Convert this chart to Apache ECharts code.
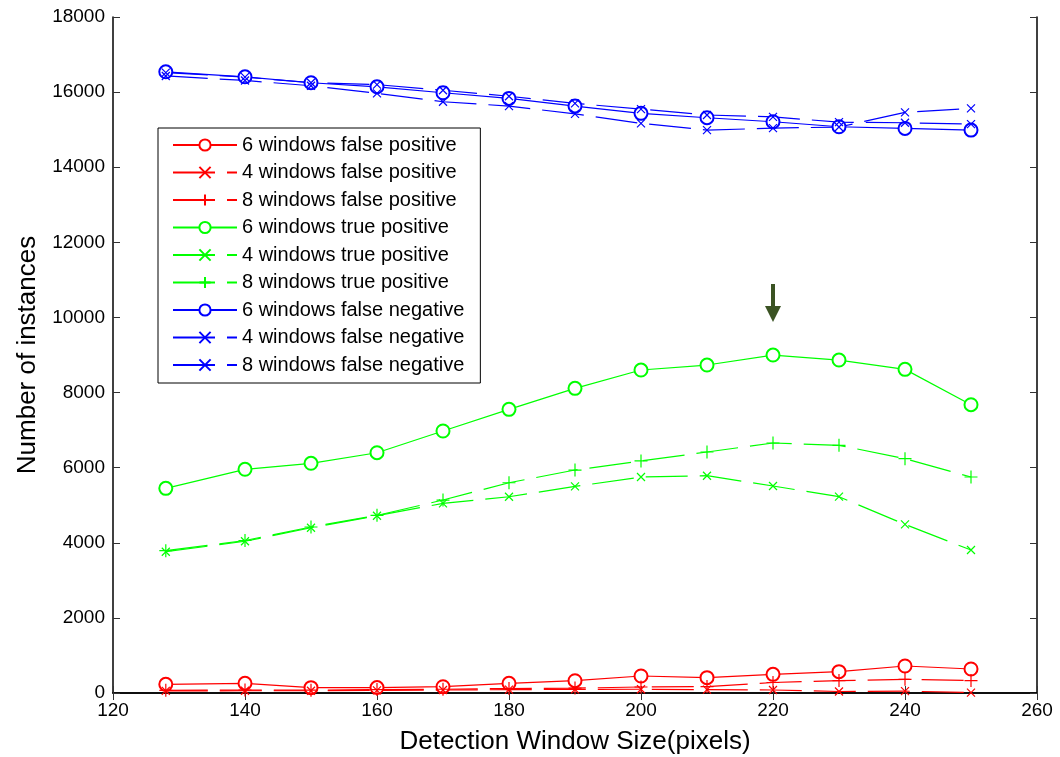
<!DOCTYPE html>
<html>
<head>
<meta charset="utf-8">
<script src="https://cdn.jsdelivr.net/npm/echarts@6/dist/echarts.min.js"></script>
<style>
  html, body { margin: 0; padding: 0; background: #fff; }
  #chart { width: 1060px; height: 757px; }
</style>
</head>
<body>
<div id="chart"></div>
<script>
// window sizes on the x axis
const windowSizes = [128, 140, 150, 160, 170, 180, 190, 200, 210, 220, 230, 240, 250];

// false positives
const fp6 = [231, 258, 142, 145, 168, 258, 328, 453, 408, 497, 568, 719, 639];
const fp4 = [55, 60, 60, 70, 80, 90, 95, 100, 90, 80, 40, 50, 10];
const fp8 = [70, 80, 75, 90, 100, 120, 130, 160, 170, 280, 330, 365, 330];

// true positives
const tp6 = [5450, 5956, 6116, 6398, 6976, 7553, 8112, 8600, 8733, 8999, 8866, 8618, 7676];
const tp4 = [3762, 4040, 4400, 4720, 5050, 5226, 5500, 5751, 5786, 5511, 5227, 4490, 3807];
const tp8 = [3790, 4060, 4420, 4730, 5138, 5599, 5937, 6180, 6417, 6657, 6595, 6240, 5751];

// false negatives
const fn6 = [16541, 16408, 16249, 16142, 15983, 15833, 15628, 15434, 15318, 15211, 15078, 15033, 14989];
const fn4 = [16430, 16310, 16170, 15966, 15743, 15628, 15420, 15168, 14989, 15040, 15070, 15460, 15567];
const fn8 = [16520, 16400, 16250, 16200, 16050, 15890, 15700, 15548, 15390, 15340, 15200, 15184, 15149];

const arrowAt = [220, 8999]; // annotation arrow above the 6-window TP peak

const RED = '#ff0000', GREEN = '#00ff00', BLUE = '#0000ff';
const CROSS = 'path://M0,0L10,10M10,0L0,10';
const PLUS = 'path://M5,0L5,10M0,5L10,5';
const FONT = 'Liberation Sans, Arial, Helvetica, sans-serif';

function pairs(vals) {
  return windowSizes.map((x, i) => [x, vals[i]]);
}

function mk(name, vals, color, marker) {
  const dashed = marker !== 'circle';
  let symbol = 'emptyCircle', size = 13;
  if (marker === 'x') { symbol = CROSS; size = 8; }
  if (marker === '+') { symbol = PLUS; size = 13; }
  return {
    name: name,
    type: 'line',
    data: pairs(vals),
    symbol: symbol,
    symbolSize: size,
    showAllSymbol: true,
    animation: false,
    lineStyle: { color: color, width: 1.2, type: dashed ? [42, 12] : 'solid' },
    itemStyle: { color: color, borderColor: color, borderWidth: 1.2 },
    emphasis: { disabled: true }
  };
}

const series = [
  mk('6 windows false positive', fp6, RED, 'circle'),
  mk('4 windows false positive', fp4, RED, 'x'),
  mk('8 windows false positive', fp8, RED, '+'),
  mk('6 windows true positive', tp6, GREEN, 'circle'),
  mk('4 windows true positive', tp4, GREEN, 'x'),
  mk('8 windows true positive', tp8, GREEN, '+'),
  mk('6 windows false negative', fn6, BLUE, 'circle'),
  mk('4 windows false negative', fn4, BLUE, 'x'),
  mk('8 windows false negative', fn8, BLUE, 'x')
];

series[3].markPoint = {
  silent: true,
  symbol: 'path://M6,0L10,0L10,22L16,22L8,38L0,22L6,22Z',
  symbolSize: [16, 38],
  symbolOffset: [0, -52],
  itemStyle: { color: '#3b5323', borderWidth: 0 },
  label: { show: false },
  data: [{ coord: arrowAt }]
};

const boxAxis = {
  axisLine: { show: true, lineStyle: { color: '#000', width: 1.5 } },
  axisTick: { show: true, inside: true, length: 7, lineStyle: { color: '#333' } },
  splitLine: { show: false }
};

const option = {
  backgroundColor: '#fff',
  animation: false,
  grid: { left: 113, right: 23, top: 17, bottom: 64, outerBoundsMode: 'none', containLabel: false },
  legend: {
    orient: 'vertical',
    left: 158,
    top: 128,
    padding: [7, 16, 8, 14],
    itemWidth: 64,
    itemHeight: 14,
    itemGap: 7.5,
    borderColor: '#000',
    borderWidth: 1,
    backgroundColor: '#fff',
    selectedMode: false,
    textStyle: { fontFamily: FONT, fontSize: 20, color: '#000' }
  },
  xAxis: [
    Object.assign({
      type: 'value', min: 120, max: 260, interval: 20,
      name: 'Detection Window Size(pixels)',
      nameLocation: 'middle', nameGap: 36,
      nameTextStyle: { fontFamily: FONT, fontSize: 26, color: '#000' },
      axisLabel: { fontFamily: FONT, fontSize: 19, color: '#000', margin: 8 }
    }, boxAxis),
    Object.assign({
      type: 'value', min: 120, max: 260, interval: 20, position: 'top',
      axisLabel: { show: false }
    }, boxAxis)
  ],
  yAxis: [
    Object.assign({
      type: 'value', min: 0, max: 18000, interval: 2000,
      name: 'Number of instances',
      nameLocation: 'middle', nameGap: 72,
      nameTextStyle: { fontFamily: FONT, fontSize: 26, color: '#000' },
      axisLabel: { fontFamily: FONT, fontSize: 19, color: '#000', margin: 8, formatter: v => String(v) }
    }, boxAxis),
    Object.assign({
      type: 'value', min: 0, max: 18000, interval: 2000, position: 'right',
      axisLabel: { show: false }
    }, boxAxis)
  ],
  series: series
};

const chart = echarts.init(document.getElementById('chart'), null, { renderer: 'canvas' });
chart.setOption(option);
</script>
</body>
</html>
